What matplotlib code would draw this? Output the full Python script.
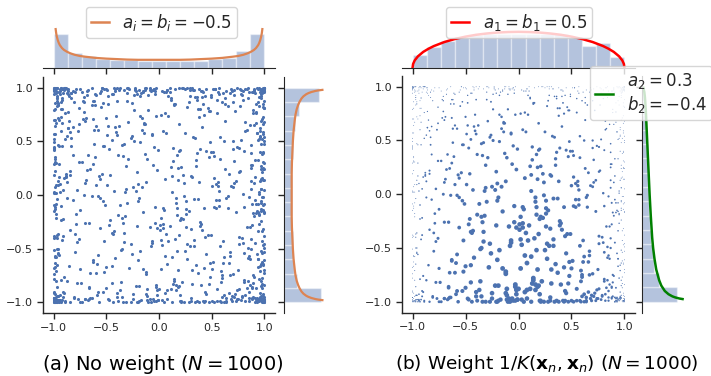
import numpy as np
import matplotlib
matplotlib.use("Agg")
import matplotlib.pyplot as plt
from matplotlib.lines import Line2D

# ---------------- data (read / estimated from the reference) ----------------
# sample points (x, y) in hundredths, shared by both panels
PX = [
-99,45,-12,97,-87,3,72,-64,100,-97,23,-41,88,-100,56,-28,94,-91,10,-75,99,-5,66,-96,34,
98,-83,15,-100,79,-48,92,-19,-98,61,6,-93,100,-70,38,-2,96,-56,85,-99,27,-34,74,-90,50,
-95,9,83,-62,99,-26,43,-100,68,-86,19,97,-8,-97,57,-44,91,2,-79,100,-15,36,-94,80,-53,
95,-99,31,-73,87,-11,63,-92,100,-37,13,-98,77,-59,98,47,-22,-84,93,-3,54,-100,25,-67,89,
-98,70,-30,99,-89,41,-7,84,-96,17,59,-52,100,-81,5,94,-40,-99,29,76,-18,97,-65,12,-93,
86,-100,52,-24,96,-77,1,64,-91,99,-46,33,-97,81,-13,-58,98,20,-88,48,92,-35,-99,69,-4,
-96,24,100,-69,7,90,-50,58,-100,37,-21,95,-85,73,-9,99,-95,44,-61,16,-98,82,-33,97,-74,
99,-42,67,-94,28,-1,87,-100,53,-80,11,100,-27,96,-66,40,-98,75,-16,93,-55,4,-90,62,98,
-100,35,-86,91,-6,55,-97,78,-39,21,99,-63,-93,8,84,-29,100,-72,46,-99,14,95,-49,71,-17,
97,-92,18,-54,100,30,-99,65,-23,89,-78,42,-96,94,-10,60,-100,26,-43,98,-68,0,83,-87,51,
-97,63,-36,99,-82,22,-14,93,-100,49,79,-57,96,-3,32,-91,100,-47,71,-99,11,-25,88,-71,97,
100,-60,39,-98,86,-20,57,-95,5,95,-89,74,-32,-100,18,98,-66,45,-8,91,-97,27,-51,82,-2,
-94,99,-45,14,77,-100,36,-76,97,-18,52,-99,90,-38,3,-87,100,62,-12,-96,43,96,-63,24,-83,
98,-27,85,-92,9,68,-99,47,-54,100,-6,-81,29,94,-70,58,-100,13,97,-34,80,-95,38,-15,99,
-99,16,-64,92,-40,100,-88,2,73,-97,54,34,-21,99,-78,87,-100,19,-49,96,-9,66,-93,41,97,
96,-100,57,-16,88,-73,25,-98,99,-44,8,81,-90,64,-30,100,-58,37,-97,92,-1,50,-85,18,-99,
-92,40,98,-53,12,-99,76,-35,95,-7,61,-100,86,-24,28,97,-83,48,-67,99,-13,-96,70,6,-89,
100,-31,69,-96,44,-80,16,90,-100,55,-11,97,-60,33,-93,82,-42,99,-19,3,-98,74,59,-71,94,
-98,82,-18,47,-91,97,-56,10,100,-84,30,-4,93,-100,64,-37,89,-72,20,99,-46,56,-96,96,-26,
99,-68,4,-99,72,-29,94,-87,53,100,-50,21,-94,85,-15,39,-100,78,-62,97,-3,65,-82,31,98,
-100,23,-77,96,-38,60,-95,89,-10,42,-99,99,-59,15,81,-89,100,-22,51,-97,7,-43,92,-65,76,
97,-48,88,-100,26,-13,99,-83,67,-32,94,-98,4,58,-69,100,-5,-93,35,85,-57,98,-20,46,-97,
-96,71,-25,100,-79,9,50,-99,95,-41,19,-90,83,-2,-100,63,98,-52,28,-86,91,-14,99,-64,37,
99,-94,42,-7,87,-61,97,-100,32,75,-35,2,-97,96,-76,54,-19,100,-45,11,-99,80,-28,93,-88,
-99,55,-91,20,98,-47,69,-12,-100,90,-84,38,95,-55,1,100,-96,44,-71,86,-23,17,-93,99,-39,
94,-35,100,-97,61,-4,83,-75,27,-99,97,-52,49,-17,89,-92,12,-100,68,-30,96,-63,39,99,-8,
-97,8,-70,99,-26,91,-100,36,-48,78,-93,100,-12,52,-85,24,97,-99,60,-36,87,-3,-94,73,100,
100,-86,33,-60,96,11,-98,84,-42,99,-20,64,-100,4,90,-73,47,-7,98,-90,29,-54,92,-97,17,
-93,66,-5,98,-67,43,-100,94,-31,14,-96,81,99,-49,26,-82,100,-16,57,-98,88,-40,7,-76,95,
98,-56,90,-99,20,-89,74,-21,100,-2,48,-94,35,-65,97,-100,62,-33,85,-11,99,-80,23,-45,96,
-100,41,-92,87,-15,99,-63,29,-97,70,-37,98,5,-84,55,100,-27,-99,93,-50,16,79,-70,97,-9,
96,-22,62,-98,90,-44,13,-100,84,-58,97,-1,36,-91,100,-75,45,-96,21,88,-34,99,-86,67,-6,
-99,89,-53,27,-95,100,-10,76,-81,49,-100,95,-30,8,98,-66,33,-89,92,-19,58,-97,100,-42,71,
100,-98,53,-33,93,-70,18,97,-100,40,-13,85,-94,65,-48,99,-84,2,78,-25,96,-60,31,-99,88,
-98,30,95,-64,6,-92,80,-45,99,-100,59,-18,91,-79,43,-3,100,-97,70,-39,22,97,-87,49,-56,
97,-76,21,-99,67,-9,92,-88,100,38,-62,10,-96,82,-29,98,-47,60,-100,87,-21,44,-92,93,-14,
-100,77,-43,94,-86,15,99,-58,34,-95,88,-5,51,-99,100,-71,26,-33,97,-83,64,-12,91,-98,19,
95,-89,8,100,-52,70,-97,45,-23,98,-68,93,-100,17,-40,84,-93,57,-8,99,-61,30,-95,76,98,
-99,48,-82,97,-20,63,-100,89,-66,25,-4,100,-90,39,94,-53,12,-98,81,-31,99,-78,52,-94,6,
100,-40,79,-96,31,-75,96,-11,56,-100,92,-45,19,-87,71,-97,99,-24,41,-63,87,-99,14,95,-50,
]
PY = [
-100,41,-72,6,95,-47,78,-96,
-100,88,-22,59,-97,2,96,-68,33,-90,100,-14,73,-99,20,-55,91,-83,46,99,-38,-95,64,-8,98,
97,-43,15,-100,81,-26,99,-89,55,-3,-96,70,-60,36,100,-76,8,-98,92,-30,48,-94,86,-12,-99,
-97,62,-85,27,98,-50,4,94,-100,75,-18,100,-69,39,-93,89,-6,52,-99,17,96,-41,-88,69,99,
100,-9,44,-95,83,-64,21,-100,97,-33,58,-86,10,99,-52,-98,79,30,-74,95,-2,-99,63,-45,90,
-98,37,-71,99,-16,87,-100,51,-91,7,98,-39,74,-97,24,-58,100,-84,45,-11,93,-96,60,-28,97,
95,-99,19,-48,90,-79,66,-1,-100,42,100,-63,85,-21,31,-94,97,-54,11,-99,72,-36,98,-87,54,
-96,80,-29,100,-66,13,-97,57,96,-90,35,-7,-100,68,-44,92,-82,25,99,-57,3,87,-98,47,-15,
99,-53,90,-17,-100,40,-87,97,9,-70,61,-99,82,-31,100,-93,16,49,-65,94,-5,-97,76,-40,98,
-99,26,-92,71,-10,98,-59,34,-100,88,-37,99,-78,1,56,-95,95,-24,67,-86,100,-49,18,-97,83,
98,-75,5,-99,47,-34,93,-95,70,-13,100,-62,23,-88,99,-3,40,-100,85,-51,14,97,-81,58,-97,
-100,91,-40,18,96,-84,54,-22,100,-98,32,-67,89,7,-96,77,-15,99,-73,43,-99,65,-6,94,-56,
96,-27,76,-97,3,100,-70,38,-86,99,-48,17,-100,82,-9,60,-93,97,-32,51,-80,22,98,-99,66,
-94,49,-100,86,-20,64,-98,12,97,-58,100,-36,75,-91,29,-1,95,-77,53,-99,90,-43,8,99,-83,
100,-61,28,-96,92,-8,69,-99,44,-83,98,-26,1,-100,73,96,-47,35,-89,84,-17,56,-98,20,-69,
-99,83,-12,53,-100,97,-44,25,-90,66,9,-98,100,-63,87,-33,48,-96,94,-5,72,-86,31,99,-21,
97,-36,98,-81,16,-99,88,-53,61,-4,100,-97,42,-69,92,14,-100,80,-27,99,-90,3,57,-46,-95,
-97,57,-63,99,-30,79,-100,6,95,-76,37,-14,98,-94,50,-57,100,-8,27,-99,86,-39,96,-84,11,
100,-88,34,-7,93,-42,100,-99,63,24,-85,97,-18,45,-100,91,-67,2,99,-52,78,-95,15,-31,96,
-98,19,-96,94,-55,42,-3,100,-82,71,-99,99,-23,8,84,-71,55,-100,97,-12,30,-92,68,-60,99,
99,-46,72,-100,10,-90,97,-25,52,-98,88,-64,100,-1,37,-83,95,-40,19,-97,62,98,-75,46,-17,
-100,96,-57,31,-93,85,-11,100,-70,4,99,-99,58,-34,77,-96,21,-52,92,-87,43,-6,100,-65,90,
95,-20,87,-99,60,-48,14,-97,99,-79,33,-2,-100,96,-61,81,-37,9,98,-92,50,-27,74,-99,2,
-99,74,-37,98,-87,23,-100,90,-54,46,-15,97,-96,67,-9,100,-73,39,-98,85,-43,13,94,-80,57,
98,-97,47,-21,100,-66,81,-5,-99,30,94,-88,64,-45,99,-100,17,-58,89,5,-93,71,-28,97,-74,
-96,65,-100,12,-78,97,-33,54,-94,92,0,-60,100,-19,80,-99,37,99,-50,24,-86,95,-11,61,-100,
100,-13,95,-72,40,-98,76,-42,18,-91,99,-7,-97,88,-29,59,-100,96,-64,11,82,-55,33,-96,91,
-97,51,-23,100,-92,16,69,-100,97,-39,87,-81,6,-99,94,-16,48,-73,99,-4,64,-95,26,100,-49,
97,-64,10,-96,79,-27,99,-100,35,56,-87,100,-48,20,-99,90,-12,73,-91,45,-34,98,-68,3,-98,
-100,85,-50,41,-97,98,-18,63,-84,7,100,-58,28,-95,96,-41,83,-99,15,-76,99,-23,52,-89,94,
99,-31,78,-99,27,-73,94,-9,-100,48,96,-94,66,-36,100,-82,13,-51,91,-98,39,-16,85,-62,100,
-98,43,-89,97,-14,59,-99,81,-46,22,100,-67,-3,93,-97,69,-30,99,-85,50,-8,97,-100,32,-78,
100,-56,24,-98,89,-38,5,99,-92,72,-21,96,-100,40,62,-75,98,-11,-95,86,-46,17,-99,79,44,
-95,93,-68,3,100,-89,52,-26,98,-100,76,-3,34,-94,97,-59,11,88,-80,99,-35,58,-97,25,-13,
98,-84,38,-57,99,-12,85,-100,22,-42,94,-97,60,9,-70,100,-28,67,-99,91,-1,-91,46,97,-66,
-99,29,-81,92,-45,99,-100,74,14,-65,87,-19,100,-96,55,-37,95,-6,31,-99,80,-53,98,-87,18,
96,-100,61,-29,84,-93,100,-2,43,-77,97,-50,21,-99,89,-15,66,-96,99,4,-60,77,-41,100,-90,
-100,70,-8,99,-62,34,-95,87,-30,98,-85,53,-100,12,95,-71,41,-18,100,-97,68,-43,7,92,-55,
99,-43,93,-96,19,-52,100,-80,60,-10,97,-99,84,-32,29,-88,99,-63,49,-5,90,-100,24,-74,96,
-97,58,-26,100,-91,80,-16,46,-100,95,-54,6,98,-82,36,-99,76,-38,88,-94,13,100,-69,54,-98,
12,-98,67,-35,100,-80,93,-4,-99,50,97,-61,28,-92,84,-19,99,
]

# marginal histograms: 15 bins on [-1, 1] (densities)
hist_a_top = [1.40, 0.61, 0.49, 0.37, 0.33, 0.32, 0.29, 0.28, 0.29, 0.28, 0.29, 0.35, 0.39, 0.67, 1.40]
hist_a_right = [1.53, 0.55, 0.40, 0.36, 0.36, 0.33, 0.33, 0.33, 0.33, 0.33, 0.36, 0.38, 0.47, 0.61, 1.45]
hist_b_top = [0.23, 0.36, 0.48, 0.54, 0.58, 0.59, 0.59, 0.59, 0.59, 0.59, 0.59, 0.54, 0.39, 0.44, 0.19]
hist_b_right = [1.79, 0.86, 0.63, 0.55, 0.46, 0.41, 0.37, 0.34, 0.32, 0.31, 0.29, 0.26, 0.21, 0.15, 0.10]

# reference density curves
arc_t = [-0.98, -0.975, -0.97, -0.96, -0.95, -0.94, -0.92, -0.90, -0.87, -0.84, -0.80, -0.75, -0.70,
         -0.60, -0.50, -0.40, -0.30, -0.20, -0.10, 0.0, 0.10, 0.20, 0.30, 0.40, 0.50, 0.60, 0.70,
         0.75, 0.80, 0.84, 0.87, 0.90, 0.92, 0.94, 0.95, 0.96, 0.97, 0.975, 0.98]
arc_d = [1.60, 1.43, 1.31, 1.14, 1.02, 0.93, 0.81, 0.73, 0.65, 0.59, 0.53, 0.48, 0.45,
         0.40, 0.37, 0.35, 0.33, 0.32, 0.32, 0.32, 0.32, 0.32, 0.33, 0.35, 0.37, 0.40, 0.45,
         0.48, 0.53, 0.59, 0.65, 0.73, 0.81, 0.93, 1.02, 1.14, 1.31, 1.43, 1.60]
semi_t = [-1.0, -0.995, -0.98, -0.95, -0.90, -0.85, -0.80, -0.70, -0.60, -0.50, -0.40, -0.30, -0.20,
          -0.10, 0.0, 0.10, 0.20, 0.30, 0.40, 0.50, 0.60, 0.70, 0.80, 0.85, 0.90, 0.95, 0.98, 0.995, 1.0]
semi_d = [0.0, 0.064, 0.127, 0.199, 0.278, 0.335, 0.382, 0.455, 0.509, 0.551, 0.584, 0.607, 0.624,
          0.633, 0.637, 0.633, 0.624, 0.607, 0.584, 0.551, 0.509, 0.455, 0.382, 0.335, 0.278, 0.199,
          0.127, 0.064, 0.0]
jac_t = [0.99, 0.95, 0.90, 0.80, 0.60, 0.40, 0.20, 0.0, -0.20, -0.40, -0.50, -0.60, -0.70, -0.80,
         -0.85, -0.90, -0.93, -0.95, -0.96, -0.97, -0.975]
jac_d = [0.07, 0.12, 0.15, 0.19, 0.24, 0.29, 0.34, 0.39, 0.45, 0.52, 0.57, 0.64, 0.73, 0.88,
         0.99, 1.17, 1.36, 1.56, 1.71, 1.92, 2.08]

ticks = [-1.0, -0.5, 0.0, 0.5, 1.0]
tick_labels = ["−1.0", "−0.5", "0.0", "0.5", "1.0"]
captions = [r"(a) No weight ($N = 1000$)",
            r"(b) Weight $1/K(\mathbf{x}_n, \mathbf{x}_n)$ ($N = 1000$)"]
labels = [r"$a_i = b_i = -0.5$", r"$a_1 = b_1 = 0.5$", "$a_2 = 0.3$\n$b_2 = -0.4$"]

# ---------------- styling ----------------
plt.rcParams["font.family"] = ["DejaVu Sans"]
DARK = "#262626"
BLUE = "#4c72b0"
ORANGE = "#dd8452"
W, H = 711, 376
fig = plt.figure(figsize=(W / 100, H / 100), dpi=100)


def ax_px(l, t, r, b):
    return fig.add_axes([l / W, 1 - b / H, (r - l) / W, (b - t) / H])


edges = np.linspace(-1, 1, 16)
centers = (edges[:-1] + edges[1:]) / 2
bw = edges[1] - edges[0]
xs = np.array(PX) / 100.0
ys = np.array(PY) / 100.0


def style_main(ax):
    ax.set_xlim(-1.1, 1.1)
    ax.set_ylim(-1.1, 1.1)
    for s in ["top", "right"]:
        ax.spines[s].set_visible(False)
    for s in ["left", "bottom"]:
        ax.spines[s].set_color(DARK)
        ax.spines[s].set_linewidth(1.0)
    ax.set_xticks(ticks)
    ax.set_yticks(ticks)
    ax.set_xticklabels(tick_labels)
    ax.set_yticklabels(tick_labels)
    ax.tick_params(length=4.5, width=1.0, color=DARK, labelcolor=DARK, labelsize=8, pad=2.5)


def style_top(ax, ymax):
    ax.set_xlim(-1.1, 1.1)
    ax.set_ylim(0, ymax)
    for s in ["top", "right", "left"]:
        ax.spines[s].set_visible(False)
    ax.spines["bottom"].set_color(DARK)
    ax.set_xticks(ticks)
    ax.set_xticklabels([])
    ax.set_yticks([])
    ax.tick_params(length=4.5, width=1.0, color=DARK)
    ax.patch.set_alpha(0)


def style_right(ax, xmax):
    ax.set_ylim(-1.1, 1.1)
    ax.set_xlim(0, xmax)
    for s in ["top", "right", "bottom"]:
        ax.spines[s].set_visible(False)
    ax.spines["left"].set_color(DARK)
    ax.set_yticks(ticks)
    ax.set_yticklabels([])
    ax.set_xticks([])
    ax.tick_params(length=4.5, width=1.0, color=DARK)
    ax.patch.set_alpha(0)


LEG = dict(bbox_transform=fig.transFigure, borderaxespad=0, fontsize=12,
           handlelength=1.1, handletextpad=0.8, borderpad=0.3)

# ---------------- panel (a) ----------------
axm = ax_px(43, 77, 275, 313)
axm.scatter(xs, ys, s=5, color=BLUE, linewidths=0)
style_main(axm)

axt = ax_px(43, 5, 275, 67.5)
axt.bar(centers, hist_a_top, width=bw, color=BLUE, alpha=0.42, edgecolor="white", linewidth=1)
axt.plot(arc_t, arc_d, color=ORANGE, lw=1.6)
style_top(axt, 62.5 / 24)

axr = ax_px(284, 77, 330, 313)
axr.barh(centers, hist_a_right, height=bw, color=BLUE, alpha=0.42, edgecolor="white", linewidth=1)
axr.plot(arc_d, arc_t, color=ORANGE, lw=1.6)
style_right(axr, 46 / 24)

lg = axt.legend(handles=[Line2D([], [], color=ORANGE, lw=1.8)], labels=[labels[0]],
                loc="upper center", bbox_to_anchor=(161.5 / W, 1 - 7 / H), **LEG)
for t in lg.get_texts():
    t.set_color(DARK)

# ---------------- panel (b) ----------------
wts = (1 - xs ** 2) * (1 - ys) ** 0.8 * np.clip(1 + ys, 0.01, None) ** 0.1
sizes = np.maximum(9.0 * wts, 0.35)

bxm = ax_px(402, 76, 635, 312.5)
bxm.scatter(xs, ys, s=sizes, color=BLUE, linewidths=0)
style_main(bxm)

bxt = ax_px(402, 5, 635, 67.5)
bxt.bar(centers, hist_b_top, width=bw, color=BLUE, alpha=0.42, edgecolor="white", linewidth=1)
bxt.plot(semi_t, semi_d, color="red", lw=1.8)
style_top(bxt, 62.5 / 56)

bxr = ax_px(642, 76, 688, 312.5)
bxr.barh(centers, hist_b_right, height=bw, color=BLUE, alpha=0.42, edgecolor="white", linewidth=1)
bxr.plot(jac_d, jac_t, color="green", lw=1.8)
style_right(bxr, 46 / 19.5)

lg2 = bxt.legend(handles=[Line2D([], [], color="red", lw=1.8)], labels=[labels[1]],
                 loc="upper center", bbox_to_anchor=(519 / W, 1 - 7 / H), **LEG)
lg3 = bxr.legend(handles=[Line2D([], [], color="green", lw=1.8)], labels=[labels[2]],
                 loc="upper left", bbox_to_anchor=(590 / W, 1 - 66 / H), labelspacing=0.1, **LEG)
for L in (lg2, lg3):
    for t in L.get_texts():
        t.set_color(DARK)

# ---------------- captions ----------------
fig.text(162.5 / W, 1 - 364 / H, captions[0], ha="center", va="center", fontsize=14, color="black")
fig.text(546.5 / W, 1 - 364 / H, captions[1], ha="center", va="center", fontsize=13.3, color="black")

fig.savefig("out.png", dpi=100)
